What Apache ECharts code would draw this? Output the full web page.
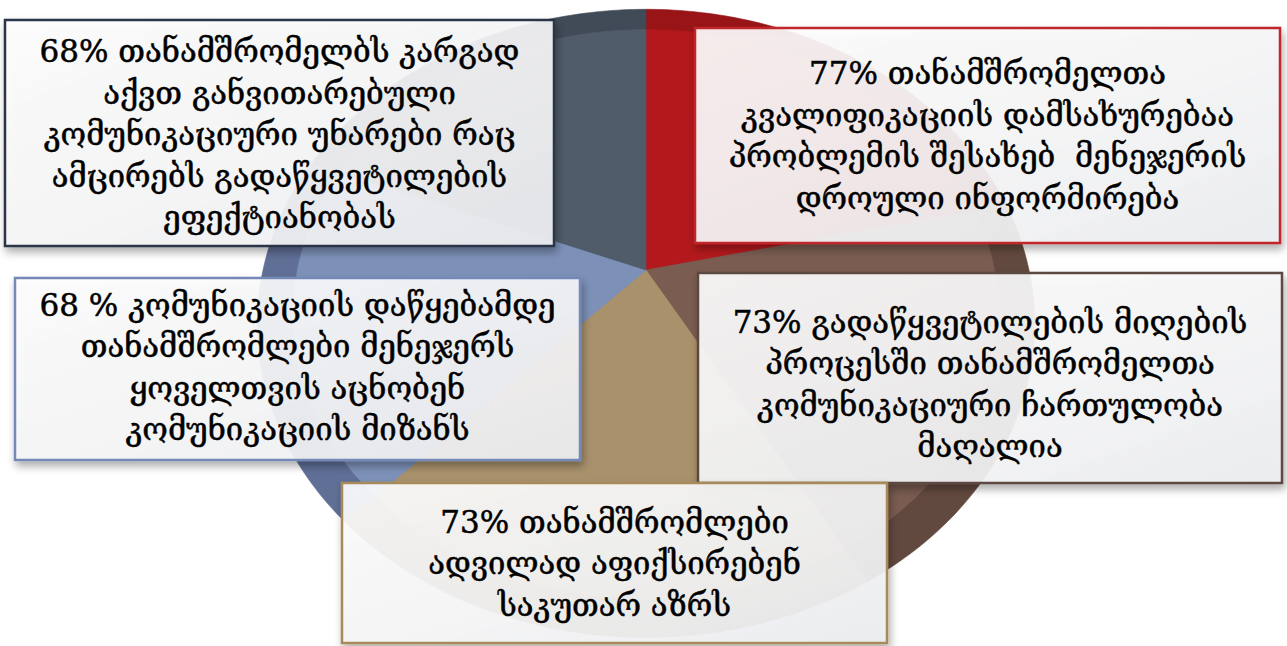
<!DOCTYPE html>
<html>
<head>
<meta charset="utf-8">
<style>
  html, body { margin: 0; padding: 0; background: #ffffff; }
  #chart { width: 1287px; height: 646px; }
</style>
<script src="https://cdn.jsdelivr.net/npm/echarts@6.0.0/dist/echarts.min.js"></script>
</head>
<body>
<div id="chart"></div>
<script>
// Statements, clockwise from twelve o'clock
const statements = [
  '77% თანამშრომელთა\nკვალიფიკაციის დამსახურებაა\nპრობლემის შესახებ  მენეჯერის\nდროული ინფორმირება',
  '73% გადაწყვეტილების მიღების\nპროცესში თანამშრომელთა\nკომუნიკაციური ჩართულობა\nმაღალია',
  '73% თანამშრომლები\nადვილად აფიქსირებენ\nსაკუთარ აზრს',
  '68 % კომუნიკაციის დაწყებამდე\nთანამშრომლები მენეჯერს\nყოველთვის აცნობენ\nკომუნიკაციის მიზანს',
  '68% თანამშრომელბს კარგად\nაქვთ განვითარებული\nკომუნიკაციური უნარები რაც\nამცირებს გადაწყვეტილების\nეფექტიანობას'
];
// Share of employees (%) behind each statement
const shares = [77, 73, 73, 68, 68];

// Slice colours (face and darker rim) and caption frame colours
const sliceColors = ['#b3191c', '#7a5c51', '#a9916c', '#7d91b8', '#505c6a'];
const rimColors   = ['#981417', '#624940', '#8d7755', '#606f96', '#414b58'];
const frameColors = ['#c0262b', '#5c4a42', '#a88a5a', '#7489b6', '#2a3547'];

// Caption boxes: [left, top, width, height, text offset]
const boxLayout = [
  [695, 28, 585, 215, 0],
  [698, 273, 584, 210, 6],
  [342, 483, 545, 160, 0],
  [15, 278, 565, 182, -2],
  [5, 20, 549, 226, 1]
];

// Tilted disc: centre, half-axes and perspective strength
const disc = { cx: 646, cy: 270, a: 383, b: 305, tilt: 0.17 };

function project(deg, r) {
  const t = deg * Math.PI / 180;
  const u = r * Math.cos(t);
  const v = -r * Math.sin(t);           // screen-down is positive
  const w = 1 - disc.tilt * v;
  return [disc.cx + disc.a * u / w, disc.cy + disc.b * v / w];
}

function slicePoints(start, end, r) {
  const pts = [project(0, 0)];
  const steps = Math.max(2, Math.ceil(Math.abs(start - end)));
  for (let k = 0; k <= steps; k++) {
    pts.push(project(start + (end - start) * k / steps, r));
  }
  return pts;
}

const total = shares.reduce((s, x) => s + x, 0);

function renderSlice(params, api) {
  const i = params.dataIndex;
  let before = 0;
  for (let k = 0; k < i; k++) before += shares[k];
  const value = api.value(0);
  const start = 90 - before / total * 360;
  const end = 90 - (before + value) / total * 360;
  return {
    type: 'group',
    children: [
      {
        type: 'polygon',
        z2: 1,
        shape: { points: slicePoints(start, end, 1) },
        style: { fill: rimColors[i], stroke: rimColors[i], lineWidth: 0.6 }
      },
      {
        type: 'polygon',
        z2: 2,
        shape: { points: slicePoints(start, end, 0.91) },
        style: { fill: sliceColors[i], stroke: sliceColors[i], lineWidth: 0.6 }
      }
    ]
  };
}

const captionGraphics = [];
statements.forEach((text, i) => {
  const [x, y, w, h, dy] = boxLayout[i];
  captionGraphics.push({
    type: 'rect',
    z: 50 + i * 2,
    shape: { x: x, y: y, width: w, height: h },
    style: {
      fill: {
        type: 'linear', x: 0, y: 0, x2: 1, y2: 1,
        colorStops: [
          { offset: 0, color: 'rgba(255,255,255,0.90)' },
          { offset: 1, color: 'rgba(238,239,241,0.92)' }
        ]
      },
      stroke: frameColors[i],
      lineWidth: 2.5,
      shadowBlur: 8,
      shadowOffsetX: 2,
      shadowOffsetY: 5,
      shadowColor: 'rgba(0,0,0,0.35)'
    }
  });
  captionGraphics.push({
    type: 'text',
    z: 51 + i * 2,
    x: x + w / 2,
    y: y + h / 2 + dy,
    style: {
      text: text,
      fill: '#000000',
      stroke: '#000000',
      lineWidth: 0.5,
      font: '31px "DejaVu Serif"',
      align: 'center',
      verticalAlign: 'middle',
      lineHeight: 41.5
    }
  });
});

const chart = echarts.init(document.getElementById('chart'), null, { renderer: 'svg' });
chart.setOption({
  animation: false,
  backgroundColor: '#ffffff',
  series: [{
    type: 'custom',
    coordinateSystem: 'none',
    data: shares,
    renderItem: renderSlice,
    z: 1
  }],
  graphic: { elements: captionGraphics }
});
</script>
</body>
</html>
